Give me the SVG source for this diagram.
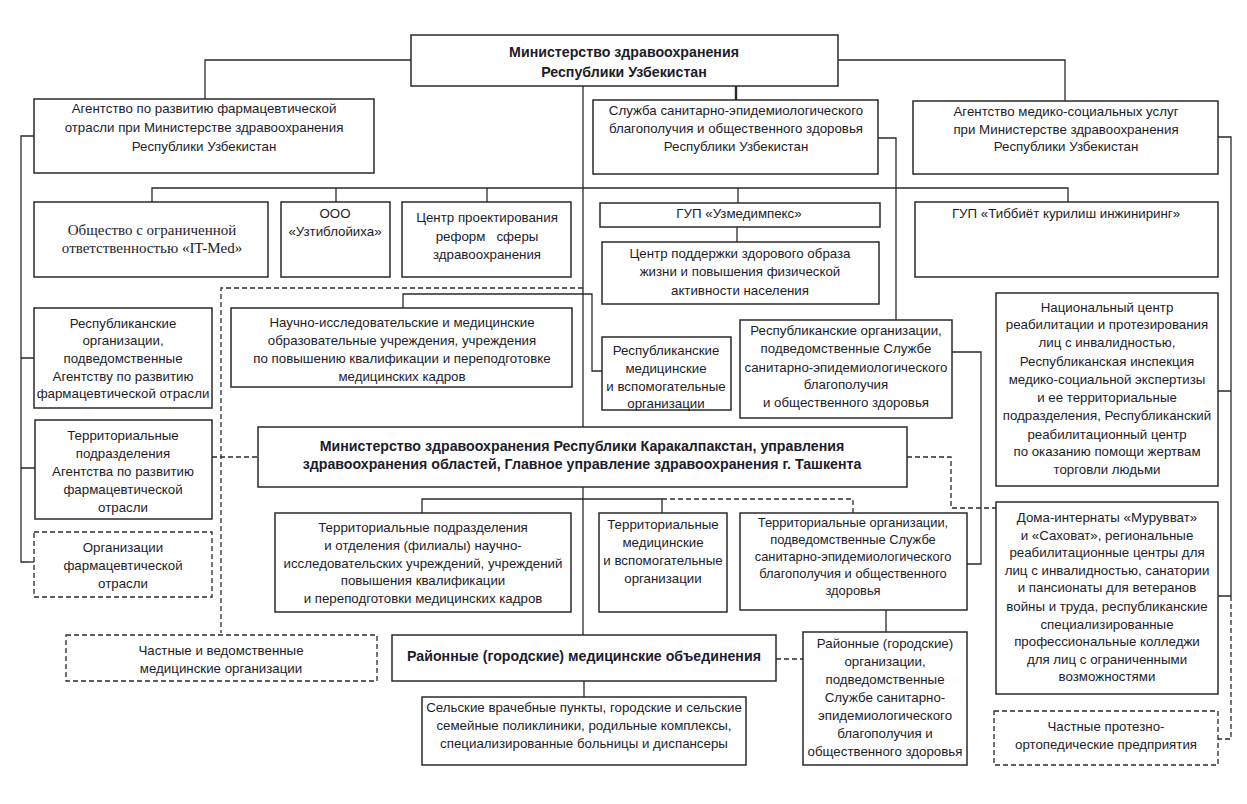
<svg xmlns="http://www.w3.org/2000/svg" width="1247" height="804" viewBox="0 0 1247 804">
<style>
  .box{fill:#fff;stroke:#2a2a2a;stroke-width:1.5}
  .dbox{fill:#fff;stroke:#2a2a2a;stroke-width:1.3;stroke-dasharray:5 3}
  .ln{fill:none;stroke:#2a2a2a;stroke-width:1.3}
  .th{fill:none;stroke:#2a2a2a;stroke-width:2.4}
  .dl{fill:none;stroke:#2a2a2a;stroke-width:1.3;stroke-dasharray:5 3}
  text{font-family:"Liberation Sans","Noto Sans",sans-serif;font-size:13.3px;fill:#1c1c2a;text-anchor:middle}
  .b{font-weight:bold;font-size:14.2px}
  .sm{font-size:12.9px}
  .serif{font-family:"Liberation Serif","DejaVu Serif",serif;font-size:15px}
  .pre{white-space:pre}
</style>
<rect width="1247" height="804" fill="#fff"/>
<g id="connectors">
  <path class="ln" d="M411 60H205V99"/>
  <path class="ln" d="M838 60H1065V101"/>
  <path class="th" d="M736 86V100"/>
  <path class="ln" d="M583 86V427M583 487V635"/>
  <path class="ln" d="M34 136H21V562H29"/>
  <path class="dl" d="M29 562H34"/>
  <path class="ln" d="M21 358H34M21 468H35"/>
  <path class="ln" d="M1218 137H1231V596"/>
  <path class="ln" d="M1231 391H1218M1231 596H1218"/>
  <path class="dl" d="M1231 596V739H1218"/>
  <path class="ln" d="M152 202V188H1068V202M336 188V202M487 188V202M738 188V203"/>
  <path class="ln" d="M737 227V242"/>
  <path class="ln" d="M878 138H896V320"/>
  <path class="ln" d="M952 352H981V564H967"/>
  <path class="dl" d="M583 288H221V633"/>
  <path class="ln" d="M403 308V294H592V371H602"/>
  <path class="dl" d="M212 457H258"/>
  <path class="dl" d="M907 457H951V508H996"/>
  <path class="ln" d="M422 513V499H662V513"/>
  <path class="dl" d="M662 499H853V513"/>
  <path class="ln" d="M886 610V632"/>
  <path class="dl" d="M776 659H803"/>
  <path class="ln" d="M584 681V697"/>
</g>
<g id="n-ministry">
  <rect class="box" x="411" y="35" width="427" height="51"/>
  <text class="b" x="624" y="57">Министерство здравоохранения</text>
  <text class="b" x="624" y="77">Республики Узбекистан</text>
</g>
<g id="n-agency-pharma">
  <rect class="box" x="34" y="99" width="340" height="74"/>
  <text x="204" y="113">Агентство по развитию фармацевтической</text>
  <text x="204" y="132">отрасли при Министерстве здравоохранения</text>
  <text x="204" y="151">Республики Узбекистан</text>
</g>
<g id="n-ses">
  <rect class="box" x="593" y="100" width="285" height="74"/>
  <text x="736" y="115">Служба санитарно-эпидемиологического</text>
  <text x="736" y="133">благополучия и общественного здоровья</text>
  <text x="736" y="151">Республики Узбекистан</text>
</g>
<g id="n-agency-social">
  <rect class="box" x="913" y="101" width="305" height="73"/>
  <text x="1066" y="116">Агентство медико-социальных услуг</text>
  <text x="1066" y="134">при Министерстве здравоохранения</text>
  <text x="1066" y="151">Республики Узбекистан</text>
</g>
<g id="n-itmed">
  <rect class="box" x="34" y="202" width="234" height="75"/>
  <text class="serif" x="152" y="235">Общество с ограниченной</text>
  <text class="serif" x="152" y="253">ответственностью «IT-Med»</text>
</g>
<g id="n-uztibloyiha">
  <rect class="box" x="281" y="202" width="109" height="75"/>
  <text x="335" y="218">ООО</text>
  <text x="335" y="236">«Узтиблойиха»</text>
</g>
<g id="n-center-reform">
  <rect class="box" x="402" y="202" width="169" height="75"/>
  <text x="487" y="222">Центр проектирования</text>
  <text class="pre" x="487" y="241">реформ   сферы</text>
  <text x="487" y="259">здравоохранения</text>
</g>
<g id="n-uzmedimpeks">
  <rect class="box" x="600" y="203" width="280" height="24"/>
  <text x="739" y="218">ГУП «Узмедимпекс»</text>
</g>
<g id="n-tibbiyot">
  <rect class="box" x="915" y="202" width="303" height="75"/>
  <text x="1066" y="218">ГУП «Тиббиёт курилиш инжиниринг»</text>
</g>
<g id="n-healthy">
  <rect class="box" x="602" y="242" width="277" height="62"/>
  <text x="740" y="258">Центр поддержки здорового образа</text>
  <text x="740" y="276">жизни и повышения физической</text>
  <text x="740" y="295">активности населения</text>
</g>
<g id="n-rep-pharma">
  <rect class="box" x="34" y="308" width="178" height="100"/>
  <text x="123" y="328">Республиканские</text>
  <text x="123" y="345">организации,</text>
  <text x="123" y="363">подведомственные</text>
  <text x="123" y="381">Агентству по развитию</text>
  <text x="123" y="398">фармацевтической отрасли</text>
</g>
<g id="n-science">
  <rect class="box" x="231" y="308" width="341" height="79"/>
  <text x="402" y="327">Научно-исследовательские и медицинские</text>
  <text x="402" y="345">образовательные учреждения, учреждения</text>
  <text x="402" y="363">по повышению квалификации и переподготовке</text>
  <text x="402" y="381">медицинских кадров</text>
</g>
<g id="n-rep-medical">
  <rect class="box" x="602" y="337" width="129" height="73"/>
  <text x="666" y="355">Республиканские</text>
  <text x="666" y="373">медицинские</text>
  <text x="666" y="391">и вспомогательные</text>
  <text x="666" y="408">организации</text>
</g>
<g id="n-rep-ses">
  <rect class="box" x="740" y="320" width="212" height="98"/>
  <text x="846" y="335">Республиканские организации,</text>
  <text x="846" y="353">подведомственные Службе</text>
  <text x="846" y="372">санитарно-эпидемиологического</text>
  <text x="846" y="389">благополучия</text>
  <text x="846" y="407">и общественного здоровья</text>
</g>
<g id="n-national">
  <rect class="box" x="996" y="293" width="222" height="193"/>
  <text x="1107" y="312">Национальный центр</text>
  <text x="1107" y="329">реабилитации и протезирования</text>
  <text x="1107" y="347">лиц с инвалидностью,</text>
  <text x="1107" y="366">Республиканская инспекция</text>
  <text x="1107" y="384">медико-социальной экспертизы</text>
  <text x="1107" y="402">и ее территориальные</text>
  <text x="1107" y="420">подразделения, Республиканский</text>
  <text x="1107" y="439">реабилитационный центр</text>
  <text x="1107" y="456">по оказанию помощи жертвам</text>
  <text x="1107" y="474">торговли людьми</text>
</g>
<g id="n-terr-agency">
  <rect class="box" x="35" y="420" width="177" height="99"/>
  <text x="123" y="440">Территориальные</text>
  <text x="123" y="458">подразделения</text>
  <text x="123" y="476">Агентства по развитию</text>
  <text x="123" y="494">фармацевтической</text>
  <text x="123" y="512">отрасли</text>
</g>
<g id="n-karakalpak">
  <rect class="box" x="258" y="427" width="649" height="60"/>
  <text class="b" x="582" y="451">Министерство здравоохранения Республики Каракалпакстан, управления</text>
  <text class="b" x="582" y="469">здравоохранения областей, Главное управление здравоохранения г. Ташкента</text>
</g>
<g id="n-pharma-orgs">
  <rect class="dbox" x="34" y="532" width="178" height="65"/>
  <text x="123" y="552">Организации</text>
  <text x="123" y="570">фармацевтической</text>
  <text x="123" y="588">отрасли</text>
</g>
<g id="n-terr-subdiv">
  <rect class="box" x="275" y="513" width="296" height="99"/>
  <text x="423" y="532">Территориальные подразделения</text>
  <text x="423" y="550">и отделения (филиалы) научно-</text>
  <text x="423" y="568">исследовательских учреждений, учреждений</text>
  <text x="423" y="585">повышения квалификации</text>
  <text x="423" y="603">и переподготовки медицинских кадров</text>
</g>
<g id="n-terr-medical">
  <rect class="box" x="599" y="513" width="128" height="99"/>
  <text x="663" y="529">Территориальные</text>
  <text x="663" y="547">медицинские</text>
  <text x="663" y="565">и вспомогательные</text>
  <text x="663" y="583">организации</text>
</g>
<g id="n-terr-ses">
  <rect class="box" x="740" y="513" width="227" height="97"/>
  <text class="sm" x="853" y="527">Территориальные организации,</text>
  <text class="sm" x="853" y="544">подведомственные Службе</text>
  <text class="sm" x="853" y="561">санитарно-эпидемиологического</text>
  <text class="sm" x="853" y="578">благополучия и общественного</text>
  <text class="sm" x="853" y="595">здоровья</text>
</g>
<g id="n-doma">
  <rect class="box" x="996" y="502" width="222" height="192"/>
  <text x="1107" y="522">Дома-интернаты «Мурувват»</text>
  <text x="1107" y="540">и «Саховат», региональные</text>
  <text x="1107" y="557">реабилитационные центры для</text>
  <text x="1107" y="575">лиц с инвалидностью, санатории</text>
  <text x="1107" y="592">и пансионаты для ветеранов</text>
  <text x="1107" y="611">войны и труда, республиканские</text>
  <text x="1107" y="629">специализированные</text>
  <text x="1107" y="646">профессиональные колледжи</text>
  <text x="1107" y="664">для лиц с ограниченными</text>
  <text x="1107" y="681">возможностями</text>
</g>
<g id="n-private-med">
  <rect class="dbox" x="66" y="635" width="311" height="46"/>
  <text x="221" y="655">Частные и ведомственные</text>
  <text x="221" y="673">медицинские организации</text>
</g>
<g id="n-raion-med">
  <rect class="box" x="392" y="635" width="384" height="46"/>
  <text class="b" x="584" y="661">Районные (городские) медицинские объединения</text>
</g>
<g id="n-raion-ses">
  <rect class="box" x="803" y="632" width="164" height="133"/>
  <text x="885" y="648">Районные (городские)</text>
  <text x="885" y="666">организации,</text>
  <text x="885" y="684">подведомственные</text>
  <text x="885" y="702">Службе санитарно-</text>
  <text x="885" y="720">эпидемиологического</text>
  <text x="885" y="738">благополучия и</text>
  <text x="885" y="756">общественного здоровья</text>
</g>
<g id="n-rural">
  <rect class="box" x="422" y="697" width="324" height="68"/>
  <text x="584" y="712">Сельские врачебные пункты, городские и сельские</text>
  <text x="584" y="730">семейные поликлиники, родильные комплексы,</text>
  <text x="584" y="748">специализированные больницы и диспансеры</text>
</g>
<g id="n-private-prosth">
  <rect class="dbox" x="994" y="711" width="224" height="54"/>
  <text x="1106" y="731">Частные протезно-</text>
  <text x="1106" y="749">ортопедические предприятия</text>
</g>
</svg>
